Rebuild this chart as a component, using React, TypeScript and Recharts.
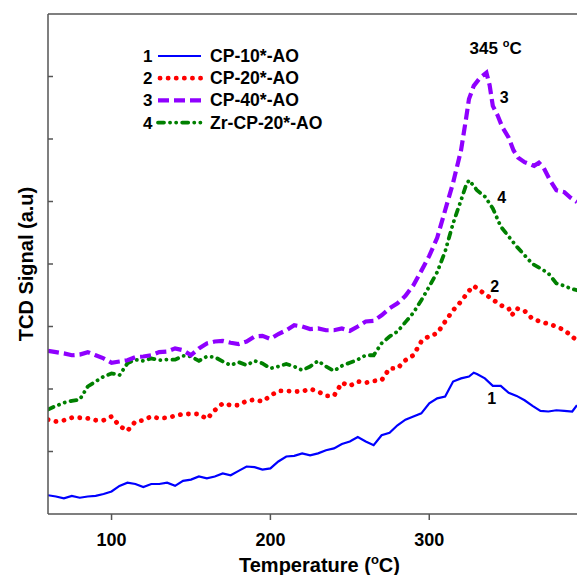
import React from 'react';
import { LineChart, Line, XAxis, YAxis, ReferenceLine, ReferenceDot, Legend } from 'recharts';

const FONT = '"Liberation Sans", Arial, Helvetica, sans-serif';
const AXIS_COLOR = '#555555';

const xTicks = [100, 200, 300];
const yTicks = [1, 2, 3, 4, 5, 6, 7];

const cp10Temps = [60, 65, 70, 75, 80, 85, 90, 95, 100, 105, 110, 115, 120, 125, 130, 135, 140, 145, 150, 155, 160, 165, 170, 175, 180, 185, 190, 195, 200, 205, 210, 215, 220, 225, 230, 235, 240, 245, 250, 255, 260, 265, 270, 275, 280, 285, 290, 295, 300, 305, 310, 315, 320, 325, 328, 330, 335, 340, 345, 350, 355, 360, 365, 370, 375, 380, 385, 390, 393];
const cp10Signal = [0.30, 0.28, 0.25, 0.29, 0.26, 0.28, 0.29, 0.32, 0.36, 0.45, 0.50, 0.48, 0.43, 0.48, 0.48, 0.50, 0.45, 0.53, 0.55, 0.60, 0.57, 0.60, 0.65, 0.62, 0.69, 0.76, 0.75, 0.71, 0.73, 0.84, 0.92, 0.93, 0.97, 0.94, 0.97, 1.02, 1.05, 1.12, 1.16, 1.23, 1.16, 1.10, 1.26, 1.30, 1.42, 1.51, 1.56, 1.61, 1.77, 1.85, 1.88, 2.12, 2.17, 2.20, 2.26, 2.24, 2.17, 2.05, 2.05, 1.94, 1.89, 1.82, 1.73, 1.65, 1.64, 1.66, 1.65, 1.64, 1.74];

const cp20Temps = [60, 65, 70, 75, 80, 85, 90, 95, 100, 105, 110, 115, 120, 125, 130, 135, 140, 145, 150, 155, 160, 165, 170, 175, 180, 185, 190, 195, 200, 205, 210, 215, 220, 225, 230, 235, 240, 245, 250, 255, 260, 265, 270, 275, 280, 285, 290, 295, 300, 305, 310, 315, 320, 325, 328, 330, 335, 340, 345, 350, 352, 355, 360, 365, 370, 375, 380, 385, 390, 393];
const cp20Signal = [1.51, 1.48, 1.50, 1.54, 1.54, 1.53, 1.50, 1.50, 1.56, 1.41, 1.33, 1.48, 1.50, 1.56, 1.53, 1.54, 1.57, 1.60, 1.60, 1.60, 1.52, 1.66, 1.77, 1.74, 1.74, 1.81, 1.83, 1.80, 1.89, 1.97, 1.97, 1.96, 1.96, 2.00, 1.96, 1.89, 1.89, 2.10, 2.05, 2.12, 2.10, 2.13, 2.14, 2.33, 2.33, 2.46, 2.54, 2.76, 2.85, 2.89, 3.08, 3.26, 3.40, 3.57, 3.65, 3.61, 3.52, 3.43, 3.34, 3.29, 3.18, 3.29, 3.25, 3.12, 3.08, 3.04, 3.00, 2.94, 2.84, 2.77];

const cp40Temps = [60, 65, 70, 75, 80, 85, 90, 95, 100, 105, 110, 115, 120, 125, 130, 135, 140, 145, 150, 155, 160, 165, 170, 175, 180, 185, 190, 195, 200, 205, 210, 215, 220, 225, 230, 235, 240, 245, 250, 255, 260, 265, 270, 275, 280, 285, 290, 295, 300, 305, 310, 315, 320, 323, 325, 328, 332, 336, 338, 340, 343, 346, 350, 353, 356, 360, 363, 366, 369, 372, 376, 380, 385, 389, 393];
const cp40Signal = [2.61, 2.59, 2.57, 2.54, 2.55, 2.59, 2.54, 2.49, 2.42, 2.44, 2.46, 2.51, 2.52, 2.54, 2.59, 2.60, 2.65, 2.62, 2.54, 2.65, 2.73, 2.76, 2.77, 2.74, 2.72, 2.76, 2.84, 2.85, 2.80, 2.88, 2.94, 3.02, 3.00, 2.96, 2.97, 2.94, 2.94, 2.97, 2.93, 3.00, 3.08, 3.09, 3.18, 3.29, 3.37, 3.49, 3.66, 3.89, 4.13, 4.42, 4.86, 5.30, 5.82, 6.30, 6.64, 6.85, 6.98, 7.06, 6.86, 6.53, 6.38, 6.19, 6.02, 5.82, 5.70, 5.63, 5.60, 5.57, 5.62, 5.54, 5.34, 5.18, 5.15, 5.06, 4.99];

const zrCp20Temps = [60, 65, 70, 75, 80, 85, 90, 95, 100, 105, 110, 115, 120, 125, 130, 135, 140, 145, 150, 155, 160, 165, 170, 175, 180, 185, 190, 195, 200, 205, 210, 215, 220, 225, 230, 235, 240, 245, 250, 255, 260, 265, 270, 275, 280, 285, 290, 295, 300, 305, 310, 315, 320, 323, 325, 328, 330, 335, 340, 345, 350, 355, 360, 365, 370, 375, 380, 385, 390, 393];
const zrCp20Signal = [1.67, 1.73, 1.78, 1.81, 1.83, 2.04, 2.12, 2.20, 2.25, 2.22, 2.41, 2.47, 2.45, 2.49, 2.46, 2.47, 2.47, 2.53, 2.52, 2.45, 2.52, 2.51, 2.44, 2.38, 2.43, 2.38, 2.45, 2.41, 2.33, 2.36, 2.40, 2.36, 2.30, 2.36, 2.45, 2.36, 2.29, 2.37, 2.42, 2.47, 2.54, 2.54, 2.73, 2.84, 2.92, 3.07, 3.22, 3.42, 3.64, 3.87, 4.20, 4.65, 5.02, 5.25, 5.34, 5.25, 5.18, 5.08, 4.89, 4.60, 4.44, 4.28, 4.14, 4.00, 3.93, 3.85, 3.69, 3.65, 3.60, 3.58];

const seriesNumbers = ['1', '2', '3', '4'];
const seriesNames = ['CP-10*-AO', 'CP-20*-AO', 'CP-40*-AO', 'Zr-CP-20*-AO'];

const curveLabelText = ['1', '2', '3', '4'];
const curveLabelTemp = [339.3, 341.2, 347.2, 345.6];
const curveLabelValue = [1.76, 3.55, 6.57, 4.97];

const peakLabelTemp = 341.8;
const peakLabelValue = 7.36;

const toRows = (temps: number[], vals: number[]) => temps.map((t, i) => ({ t, v: vals[i] }));

const cp10Rows = toRows(cp10Temps, cp10Signal);
const cp20Rows = toRows(cp20Temps, cp20Signal);
const cp40Rows = toRows(cp40Temps, cp40Signal);
const zrRows = toRows(zrCp20Temps, zrCp20Signal);

const lineStyles: any[] = [
  { stroke: '#0000FF', strokeWidth: 2.2 },
  { stroke: '#FF0000', strokeWidth: 4.8, strokeDasharray: '0.1 8', strokeLinecap: 'round' },
  { stroke: '#8F00FF', strokeWidth: 4.2, strokeDasharray: '11 5', strokeLinecap: 'butt' },
  { stroke: '#008000', strokeWidth: 3.8, strokeDasharray: '6 6 0.1 6 0.1 6', strokeLinecap: 'round' },
];

const textStyle = { fontFamily: FONT, fontWeight: 700, fill: '#000' } as const;

const YTick = (props: any) => {
  const { x, y } = props;
  return <line x1={x} x2={x + 5} y1={y} y2={y} stroke={AXIS_COLOR} strokeWidth={1.5} />;
};

const XTitle = (props: any) => {
  const vb = props.viewBox || { x: 48, y: 514, width: 529, height: 61 };
  const cx = vb.x + vb.width / 2 + 7;
  return (
    <text x={cx} y={vb.y + 58} textAnchor="middle" fontSize={20} {...textStyle}>
      Temperature (<tspan dy={-8} fontSize={13}>o</tspan>
      <tspan dy={8}>C)</tspan>
    </text>
  );
};

const YTitle = (props: any) => {
  const vb = props.viewBox || { x: 0, y: 14, width: 48, height: 500 };
  const x = vb.x + 33;
  const y = vb.y + vb.height / 2;
  return (
    <text x={x} y={y} textAnchor="middle" fontSize={20} transform={`rotate(-90, ${x}, ${y})`} {...textStyle}>
      TCD Signal (a.u)
    </text>
  );
};

const makeCurveLabel = (txt: string) => (props: any) => {
  const vb = props.viewBox;
  return (
    <text x={vb.x} y={vb.y} textAnchor="middle" fontSize={16} {...textStyle}>
      {txt}
    </text>
  );
};

const PeakLabel = (props: any) => {
  const vb = props.viewBox;
  return (
    <text x={vb.x} y={vb.y} textAnchor="middle" fontSize={17} {...textStyle}>
      345 <tspan dy={-7} fontSize={11}>o</tspan>
      <tspan dy={7}>C</tspan>
    </text>
  );
};

const LegendContent = () => (
  <svg width={200} height={100} style={{ display: 'block', overflow: 'visible' }}>
    {seriesNames.map((name, i) => {
      const base = 22 + i * 22.2;
      return (
        <g key={name}>
          <text x={3} y={base} fontSize={17} {...textStyle}>{seriesNumbers[i]}</text>
          <line x1={i === 1 ? 20 : 18} x2={61} y1={base - 6} y2={base - 6} {...lineStyles[i]} />
          <text x={70} y={base} fontSize={17.6} {...textStyle}>{name}</text>
        </g>
      );
    })}
  </svg>
);

export default function App() {
  return (
    <div style={{ position: 'absolute', left: 0, top: 0, width: 577, height: 575, background: '#fff', overflow: 'hidden' }}>
      <LineChart width={577} height={575} margin={{ top: 14, right: 0, bottom: 0, left: 0 }}>
        <XAxis
          dataKey="t"
          type="number"
          domain={[60, 393]}
          ticks={xTicks}
          allowDataOverflow
          height={61}
          axisLine={{ stroke: AXIS_COLOR, strokeWidth: 1.5 }}
          tickLine={{ stroke: AXIS_COLOR, strokeWidth: 1.5 }}
          tickSize={6}
          tickMargin={13}
          tick={{ fill: '#000', fontSize: 18, fontWeight: 700, fontFamily: FONT }}
          label={{ content: XTitle }}
        />
        <YAxis
          type="number"
          domain={[0, 8]}
          ticks={yTicks}
          width={48}
          allowDataOverflow
          axisLine={{ stroke: AXIS_COLOR, strokeWidth: 1.5 }}
          tickLine={false}
          tickSize={0}
          tickMargin={0}
          tick={YTick}
          label={{ content: YTitle }}
        />
        <ReferenceLine y={8} stroke={AXIS_COLOR} strokeWidth={1.5} />
        <Line data={cp10Rows} dataKey="v" type="linear" dot={false} activeDot={false} isAnimationActive={false} {...lineStyles[0]} />
        <Line data={cp20Rows} dataKey="v" type="linear" dot={false} activeDot={false} isAnimationActive={false} {...lineStyles[1]} />
        <Line data={zrRows} dataKey="v" type="linear" dot={false} activeDot={false} isAnimationActive={false} {...lineStyles[3]} />
        <Line data={cp40Rows} dataKey="v" type="linear" dot={false} activeDot={false} isAnimationActive={false} {...lineStyles[2]} />
        {curveLabelText.map((txt, i) => (
          <ReferenceDot key={txt} x={curveLabelTemp[i]} y={curveLabelValue[i]} r={0.01} fill="none" stroke="none" label={{ content: makeCurveLabel(txt) }} />
        ))}
        <ReferenceDot x={peakLabelTemp} y={peakLabelValue} r={0.01} fill="none" stroke="none" label={{ content: PeakLabel }} />
        <Legend
          layout="vertical"
          align="center"
          verticalAlign="middle"
          wrapperStyle={{ left: 140, top: 40, width: 200, height: 100 }}
          content={LegendContent}
        />
      </LineChart>
    </div>
  );
}
